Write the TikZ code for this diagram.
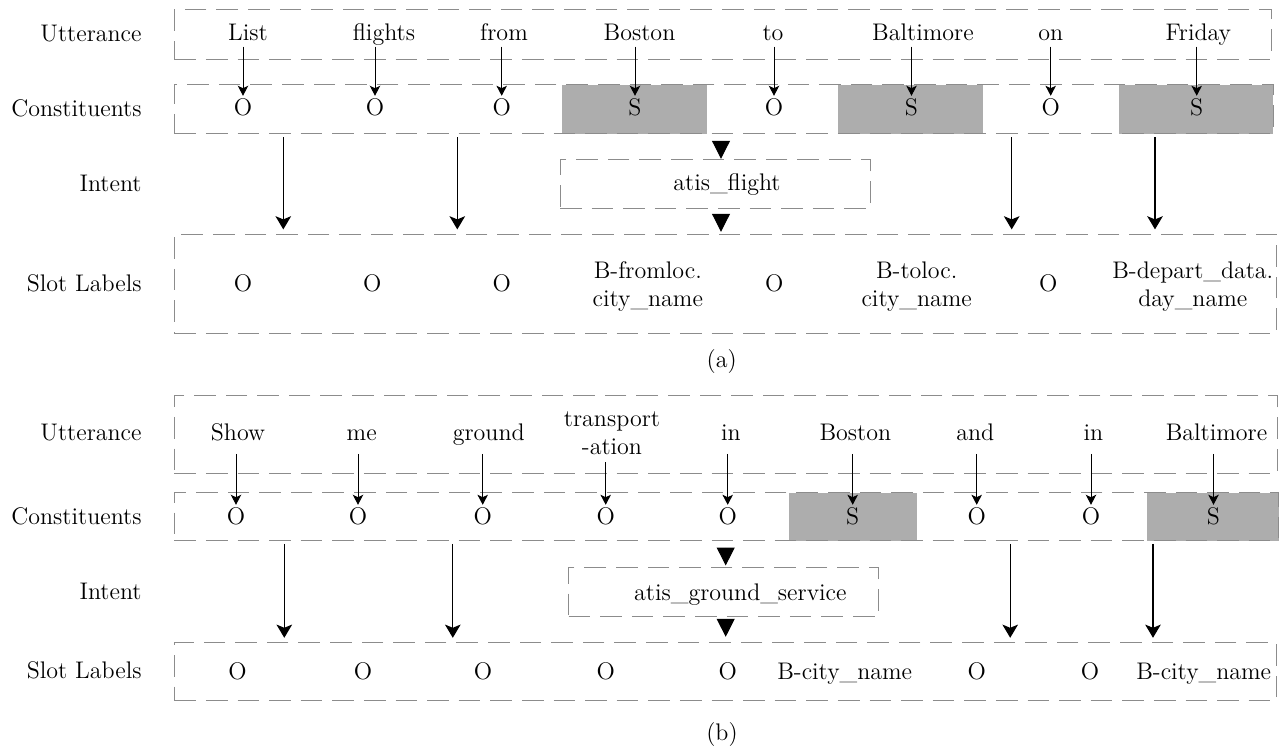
\documentclass[tikz,border=0pt]{standalone}
\usepackage{tikz}
\usetikzlibrary{arrows.meta,fit}
\definecolor{cellgray}{RGB}{173,173,173}
\definecolor{dashgray}{RGB}{140,140,140}
\tikzset{
  rowbox/.style={draw=dashgray, line width=0.5pt, dash pattern=on 10.8pt off 5pt, inner sep=0pt},
  graycell/.style={fill=cellgray, inner sep=0pt},
  rowname/.style={anchor=base east, inner sep=0pt},
  wordA/.style={anchor=base, inner sep=0pt, text depth=2.65pt},
  wordB/.style={anchor=base, inner sep=0pt, text depth=6.5pt},
  tag/.style={inner sep=1.4pt},
  slot/.style={anchor=base, inner sep=0pt},
  slottwo/.style={align=center, inner sep=0pt},
  tokarrow/.style={-{Stealth[length=5pt,width=5.2pt,inset=1.2pt]}, line width=0.5pt},
  droparrow/.style={-{Stealth[length=6.6pt,width=7.8pt,inset=1.6pt]}, line width=0.6pt, shorten <=1.4pt, shorten >=2.2pt},
  tri/.style={-{Triangle[length=9pt,width=9pt]}, line width=0.5pt}
}
\begin{document}
\begin{tikzpicture}[x=0.5pt,y=-0.5pt,font=\fontsize{12}{14}\selectfont]
\useasboundingbox (0,0) rectangle (1280,749);

% ===== (a) =====
% Row names
\node[rowname] (uA) at (142,41.5) {Utterance};
\node[rowname] (kA) at (142,116.2) {Constituents};
\node[rowname] (iA) at (142,191.2) {Intent};
\node[rowname] (lA) at (142,291.2) {Slot Labels};

% Shaded S constituents (under the dashes)
\node[graycell, fit={(562,85) (706.7,134)}] (bgA4) {};
\node[graycell, fit={(837.7,85) (982.7,134)}] (bgA6) {};
\node[graycell, fit={(1119,85) (1273.3,134)}] (bgA8) {};

% Dashed rows
\node[rowbox, fit={(174.3,10) (1271.7,59.3)}] (uttA) {};
\node[rowbox, fit={(174.3,85) (1273,134)}] (consA) {};
\node[rowbox, fit={(560,160) (870.7,208.3)}] (intA) {};
\node[rowbox, fit={(174.3,234.3) (1276.7,333.3)}] (slotA) {};

% Utterance
\node[wordA] (wA1) at (248,41) {List};
\node[wordA] (wA2) at (384,41) {flights};
\node[wordA] (wA3) at (504,41) {from};
\node[wordA] (wA4) at (639.5,41) {Boston};
\node[wordA] (wA5) at (773,41) {to};
\node[wordA] (wA6) at (923,41) {Baltimore};
\node[wordA] (wA7) at (1050.8,41) {on};
\node[wordA] (wA8) at (1198.3,41) {Friday};

% Constituents
\node[tag] (cA1) at (243,107.7) {O};
\node[tag] (cA2) at (375,107.7) {O};
\node[tag] (cA3) at (501.7,107.7) {O};
\node[tag] (cA4) at (635,107.7) {S};
\node[tag] (cA5) at (774,107.7) {O};
\node[tag] (cA6) at (911.5,107.7) {S};
\node[tag] (cA7) at (1050.7,107.7) {O};
\node[tag] (cA8) at (1196.7,107.7) {S};

% Intent
\node[slot] (itA) at (727,191) {atis\_flight};

% Slot labels
\node[slot] (sA1) at (243,291.2) {O};
\node[slot] (sA2) at (372.3,291.2) {O};
\node[slot] (sA3) at (501.7,291.2) {O};
\node[slottwo] (sA4) at (647.8,286.2) {B-fromloc.\\city\_name};
\node[slot] (sA5) at (774.3,291.2) {O};
\node[slottwo] (sA6) at (916.7,286.2) {B-toloc.\\city\_name};
\node[slot] (sA7) at (1048.3,291.2) {O};
\node[slottwo] (sA8) at (1192.8,286.2) {B-depart\_data.\\day\_name};

\node (capA) at (721.7,361.7) {(a)};

% Columns of the long arrows
\coordinate (colA1) at (283.3,0);
\coordinate (colA2) at (457.3,0);
\coordinate (colA3) at (1011.7,0);
\coordinate (colA4) at (1155,0);
\coordinate (midA) at (721,0);

% Arrows
\foreach \i in {1,...,8}
  \draw[tokarrow] (wA\i.south -| cA\i.north) -- (cA\i.north);
\foreach \i in {1,...,4}
  \draw[droparrow] (colA\i |- consA.south) -- (colA\i |- slotA.north);
\draw[tri, shorten <=3.55pt, shorten >=0.35pt] (midA |- consA.south) -- (midA |- intA.north);
\draw[tri, shorten <=2.9pt, shorten >=1pt] (midA |- intA.south) -- (midA |- slotA.north);

% ===== (b) =====
% Row names
\node[rowname] (uB) at (142,440.9) {Utterance};
\node[rowname] (kB) at (142,524.9) {Constituents};
\node[rowname] (iB) at (142,599.9) {Intent};
\node[rowname] (lB) at (142,678.2) {Slot Labels};

% Shaded S constituents
\node[graycell, fit={(789,492.7) (916.7,541)}] (bgB6) {};
\node[graycell, fit={(1147.3,492.7) (1278.8,541)}] (bgB9) {};

% Dashed rows
\node[rowbox, fit={(174.3,395) (1277.6,473.3)}] (uttB) {};
\node[rowbox, fit={(174.3,492.7) (1278,540.5)}] (consB) {};
\node[rowbox, fit={(568.6,567.7) (878.8,616.7)}] (intB) {};
\node[rowbox, fit={(174.3,642.7) (1276.7,700.7)}] (slotB) {};

% Utterance
\node[wordB] (wB1) at (238,440.5) {Show};
\node[wordB] (wB2) at (361.7,440.5) {me};
\node[wordB] (wB3) at (488.7,440.5) {ground};
\node[align=center, anchor=south, inner xsep=0pt, inner ysep=3.65pt] (wB4) at (612,462.3) {transport\\-ation};
\node[wordB] (wB5) at (730.8,440.5) {in};
\node[wordB] (wB6) at (855.3,440.5) {Boston};
\node[wordB] (wB7) at (975.3,440.5) {and};
\node[wordB] (wB8) at (1093.5,440.5) {in};
\node[wordB] (wB9) at (1216.5,440.5) {Baltimore};

% Constituents
\node[tag] (cB1) at (236,516.7) {O};
\node[tag] (cB2) at (358,516.7) {O};
\node[tag] (cB3) at (482.7,516.7) {O};
\node[tag] (cB4) at (605.7,516.7) {O};
\node[tag] (cB5) at (727.7,516.7) {O};
\node[tag] (cB6) at (852.7,516.7) {S};
\node[tag] (cB7) at (976.7,516.7) {O};
\node[tag] (cB8) at (1091,516.7) {O};
\node[tag] (cB9) at (1213.5,516.7) {S};

% Intent
\node[slot] (itB) at (740.4,600) {atis\_ground\_service};

% Slot labels
\node[slot] (sB1) at (237.6,679) {O};
\node[slot] (sB2) at (362.9,679) {O};
\node[slot] (sB3) at (482.9,679) {O};
\node[slot] (sB4) at (605.7,679) {O};
\node[slot] (sB5) at (727.8,679) {O};
\node[slot] (sB6) at (844.7,679) {B-city\_name};
\node[slot] (sB7) at (976.7,679) {O};
\node[slot] (sB8) at (1090,679) {O};
\node[slot] (sB9) at (1203.7,679) {B-city\_name};

\node (capB) at (722,735) {(b)};

% Columns of the long arrows
\coordinate (colB1) at (284.3,0);
\coordinate (colB2) at (452.8,0);
\coordinate (colB3) at (1010.2,0);
\coordinate (colB4) at (1153,0);
\coordinate (midB) at (725.7,0);

% Arrows
\foreach \i in {1,...,9}
  \draw[tokarrow] (wB\i.south -| cB\i.north) -- (cB\i.north);
\foreach \i in {1,...,4}
  \draw[droparrow] (colB\i |- consB.south) -- (colB\i |- slotB.north);
\draw[tri, shorten <=3.4pt, shorten >=0.85pt] (midB |- consB.south) -- (midB |- intB.north);
\draw[tri, shorten <=1.2pt, shorten >=2.7pt] (midB |- intB.south) -- (midB |- slotB.north);

\end{tikzpicture}
\end{document}
